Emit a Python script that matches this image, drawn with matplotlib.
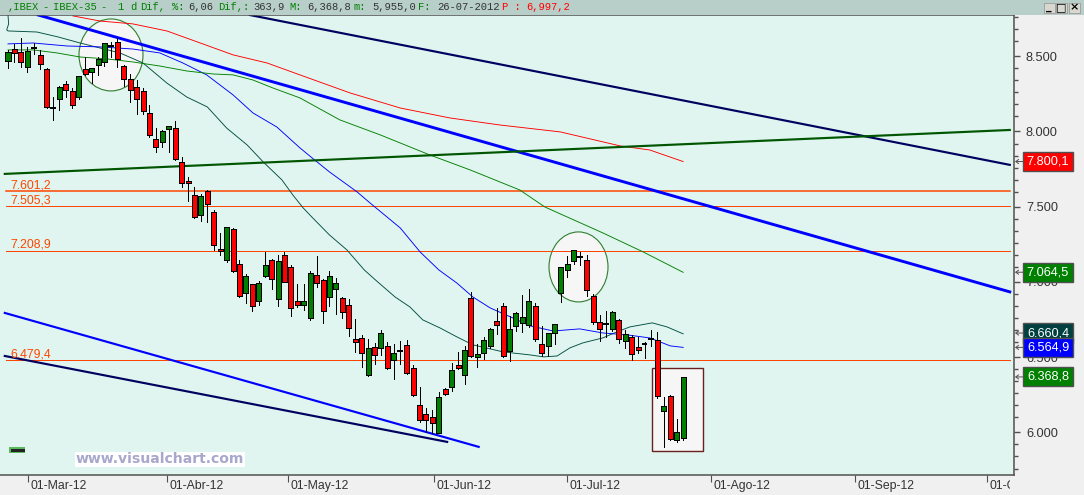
import matplotlib
matplotlib.use("Agg")
import matplotlib.pyplot as plt
from matplotlib.patches import Ellipse, Rectangle
from matplotlib.transforms import Bbox, Affine2D

plt.rcParams['font.family'] = ['Liberation Sans', 'DejaVu Sans']

# ---------- daily candles (IBEX-35) ----------
opens = [8469,8548,8529,8429,8555,8509,8416,8156,8216,8316,8269,8229,8416,8396,8442,8462,8568,8595,8435,8349,
         8296,8269,8123,7950,7930,8017,8024,7797,7671,7578,7445,7605,7465,7219,7146,7352,7120,6927,6987,6874,
         7040,7146,6887,7179,7100,6874,6847,6761,7047,7013,6900,6954,6894,6847,6621,6628,6382,6568,6561,6575,
         6482,6541,6581,6428,6183,6123,6103,5997,6289,6302,6448,6382,6894,6502,6528,6575,6741,6841,6541,6708,
         6728,6714,6841,6588,6575,6661,6927,7080,7140,7166,7146,6907,6734,6721,6688,6748,6608,6635,6568,6588,
         6621,6615,6143,6243,5950,5964]
highs = [8542,8582,8621,8562,8588,8542,8422,8229,8302,8336,8289,8369,8495,8422,8495,8588,8595,8621,8442,8382,
         8342,8289,8176,8024,8010,8037,8070,7831,7698,7631,7585,7611,7479,7326,7366,7359,7146,7053,6987,7007,
         7199,7153,7179,7199,7113,6987,6987,7073,7173,7020,7073,7027,6900,6887,6754,6648,6621,6595,6681,6601,
         6588,6608,6615,6448,6302,6163,6149,6269,6296,6462,6535,6575,6934,6588,6635,6694,6827,6861,6774,6801,
         6914,6954,6861,6708,6661,6721,7100,7173,7213,7199,7179,6920,6781,6807,6807,6754,6681,6648,6635,6601,
         6681,6668,6236,6249,6090,6369]
lows = [8422,8462,8429,8396,8515,8416,8156,8077,8143,8229,8156,8216,8376,8322,8376,8435,8495,8429,8302,8196,
        8116,8116,7964,7864,7897,7864,7811,7631,7538,7425,7405,7399,7213,7179,7133,7067,6900,6860,6807,6847,
        7033,6954,6841,7000,6774,6834,6814,6748,6967,6728,6841,6787,6761,6641,6535,6435,6376,6455,6515,6422,
        6355,6455,6389,6243,6070,6003,5997,5997,6249,6276,6422,6322,6502,6435,6488,6561,6655,6502,6475,6675,
        6668,6701,6608,6508,6508,6588,6867,7033,7120,7113,6907,6721,6608,6635,6674,6595,6561,6482,6528,6495,
        6575,6229,5904,5950,5937,5950]
closes = [8529,8522,8462,8535,8555,8449,8163,8156,8296,8276,8176,8369,8382,8422,8482,8588,8568,8482,8349,8276,
          8216,8136,7977,7897,8004,8037,7817,7658,7658,7432,7572,7518,7246,7206,7366,7073,6907,7040,6841,6993,
          7113,7020,7140,7000,6827,6847,6874,7060,6993,6807,7040,6993,6801,6694,6601,6528,6561,6515,6661,6428,
          6528,6541,6395,6249,6083,6083,6063,6236,6256,6415,6428,6548,6508,6521,6615,6688,6714,6508,6688,6794,
          6767,6874,6621,6528,6661,6721,7100,7120,7213,7166,6947,6734,6688,6721,6801,6621,6654,6521,6548,6588,
          6621,6243,6176,5957,6003,6369]

# ---------- moving averages: bar position and price ----------
ma_teal_x = [0,0.1,-0.2,0,4.5,7.8,11.2,14.3,17.4,21,24.7,27.8,31,34,37.2,39.7,42.6,44.3,45.9,47.4,50,52.7,55.4,57.5,
             60.2,62.5,64.5,67.2,69.8,72.3,77,81.2,83.3,85.4,87.4,89.4,92.5,94.7,96.7,100.2,102.5,105]
ma_teal_y = [8774,8715,8675,8668,8661,8628,8588,8555,8522,8455,8322,8229,8163,8023,7910,7797,7678,7578,7492,7425,7312,
             7213,7080,7000,6900,6834,6748,6694,6635,6582,6535,6515,6502,6508,6562,6595,6628,6668,6701,6728,6701,6655]
ma_blue_x = [0,3.9,9.2,14.3,19.4,23.6,27.2,30.9,35,38.1,41.8,45.4,47.3,50,54.3,56.3,61,64.1,67,69.8,72.3,75,78.5,
             81.2,84.8,88.9,92.5,96.3,99.8,103,105]
ma_blue_y = [8582,8588,8568,8562,8548,8522,8455,8376,8243,8123,8030,7891,7824,7731,7598,7525,7359,7199,7080,6993,
             6900,6827,6761,6708,6674,6688,6661,6648,6628,6575,6565]
ma_green_x = [0,3.9,7.6,11.2,15.4,19.4,23.6,27.8,31.9,35,38.1,41.2,45.4,51.6,57.9,65.6,71.9,79.6,83.5,88,92.5,98.8,105]
ma_green_y = [8542,8542,8522,8495,8482,8462,8435,8402,8382,8376,8342,8289,8223,8077,7977,7844,7744,7611,7498,7412,
              7326,7199,7064]
ma_red_x = [10.1,14.3,19.4,24.7,29.9,35,40.3,45.4,53.2,61,68.7,76.5,85.9,95.2,99.8,105]
ma_red_y = [8768,8734,8715,8668,8588,8509,8455,8376,8256,8156,8090,8043,7997,7904,7877,7800]

# ---------- trend lines ----------
navy_top_x, navy_top_y = [37.6,155.8], [8774,7778]
blue_top_x, blue_top_y = [4.7,155.8], [8774,6934]
green_x, green_y = [-0.5,155.8], [7718,8010]
blue_low_x, blue_low_y = [-0.5,73.2], [6794,5904]
navy_low_x, navy_low_y = [-0.5,68.3], [6508,5937]

# ---------- levels, axes labels ----------
levels = [7601.2, 7505.3, 7208.9, 6479.4]
level_labels = ['7.601,2', '7.505,3', '7.208,9', '6.479,4']
level_widths = [1.1, 0.72, 0.72, 0.72]
major_ticks = [6000, 6500, 7000, 7500, 8000, 8500]
major_labels = ['6.000', '6.500', '7.000', '7.500', '8.000', '8.500']
date_ticks = [3.1, 24.7, 43.5, 66.2, 87.0, 109.3, 131.7, 152.3]
date_labels = ['01-Mar-12', '01-Abr-12', '01-May-12', '01-Jun-12', '01-Jul-12', '01-Ago-12', '01-Sep-12', '01-Oct-12']
tags = [(7800.1, '7.800,1', '#ff0000'), (7064.5, '7.064,5', '#008000'), (6660.4, '6.660,4', '#004040'),
        (6564.9, '6.564,9', '#0000ff'), (6368.8, '6.368,8', '#008000')]

W, H = 1084, 495
BG = '#e0f5ef'
PANEL = '#f0f0f0'
BAR = '#b8cfc9'
AXC = '#505050'
LEVC = '#ff4500'

fig = plt.figure(figsize=(W/100, H/100), dpi=100, facecolor=PANEL)
L, R, T, B = 0, 1014, 15, 475
ax = fig.add_axes([L/W, 1-B/H, (R-L)/W, (B-T)/H], facecolor=BG)
ax.set_xlim(-8/6.43, (1014-8)/6.43)
ax.set_ylim(5717, 8774)

px = lambda x: (x-8)/6.43
py = lambda y: 8874-6.645*y

# highlight shapes
ax.add_patch(Ellipse((px(111), py(55)), 64/6.43, 72*6.645, fc='#f6f6f6', ec='#2f7d2f', lw=0.8, zorder=1))
ax.add_patch(Ellipse((px(578.5), py(267)), 59/6.43, 70*6.645, fc='#f6f6f6', ec='#2f7d2f', lw=0.8, zorder=1))
ax.add_patch(Rectangle((px(652), py(451)), 51/6.43, 83*6.645, fc='#f6f6f6', ec='#6b1f1f', lw=1.0, zorder=1))

# levels
for v, w in zip(levels, level_widths):
    ax.plot([px(6), px(1010)], [v, v], color=LEVC, lw=w, zorder=1.5)
for v, s in zip(levels, level_labels):
    ax.text(px(10), v+37, s, color=LEVC, fontsize=8.8, va='center', ha='left', zorder=6)

# moving averages
for xs, ys, c in [(ma_teal_x, ma_teal_y, '#004d40'), (ma_blue_x, ma_blue_y, '#0000ff'),
                  (ma_green_x, ma_green_y, '#008000'), (ma_red_x, ma_red_y, '#ff0000')]:
    ax.plot(xs, ys, color=c, lw=0.65, zorder=2)

# trend lines
ax.plot(navy_top_x, navy_top_y, color='#000060', lw=1.55, zorder=2.2)
ax.plot(blue_top_x, blue_top_y, color='#0000ff', lw=2.1, zorder=2.2)
ax.plot(green_x, green_y, color='#005500', lw=1.55, zorder=2.2)
ax.plot(blue_low_x, blue_low_y, color='#0000ff', lw=1.55, zorder=2.2)
ax.plot(navy_low_x, navy_low_y, color='#000060', lw=1.55, zorder=2.2)

# candles
idx = list(range(len(opens)))
ax.vlines(idx, lows, highs, color='black', lw=0.72, zorder=3, antialiased=False)
for i, o, c in zip(idx, opens, closes):
    if o == c:
        ax.plot([i-0.45, i+0.45], [o, o], color='black', lw=1.44, zorder=4, solid_capstyle='butt', antialiased=False)
    else:
        col = '#ff0000' if c < o else '#008000'
        ax.bar(i, abs(c-o), bottom=min(o, c), width=0.78, color=col, edgecolor='black', lw=0.72, zorder=4, antialiased=False)

# axes cosmetics
ax.spines['left'].set_visible(False)
for s in ['top', 'right', 'bottom']:
    ax.spines[s].set_color(AXC)
    ax.spines[s].set_linewidth(1.1)
ax.yaxis.tick_right()
ax.set_yticks(major_ticks)
ax.set_yticklabels(major_labels, fontsize=9.2, color='#333333')
minor = [m-80*k for m in [6000, 6500, 7000, 7500, 8000, 8500, 9000] for k in range(1, 6)]
ax.set_yticks([m for m in minor if 5717 < m < 8774], minor=True)
ax.tick_params(axis='y', which='major', length=4.3, width=1.0, color=AXC, pad=4.3)
ax.tick_params(axis='y', which='minor', length=2.9, width=1.0, color=AXC)
ax.set_xticks(date_ticks)
ax.set_xticklabels(date_labels, fontsize=8.8, color='#333333', ha='left')
ax.tick_params(axis='x', length=5, width=0.8, color=AXC, direction='out', pad=-1.5)
for lab in ax.get_xticklabels():
    lab.set_transform(lab.get_transform() + Affine2D().translate(2.5, 0))
    lab.set_clip_box(Bbox([[0, 0], [1010, H]]))
    lab.set_clip_on(True)

# price tags with arrows
yt = ax.get_yaxis_transform()
for v, s, c in tags:
    ax.text(1048/1014, v, s, transform=yt, color='white', fontsize=9.2, ha='center', va='center', clip_on=False, zorder=10,
            bbox=dict(boxstyle='square,pad=0.28', fc=c, ec=AXC, lw=1.0))
    ax.annotate('', xy=(1015/1014, v), xytext=(1023/1014, v), xycoords=yt, textcoords=yt,
                arrowprops=dict(arrowstyle='->,head_length=0.2,head_width=0.15', color=AXC, lw=0.7, shrinkA=0, shrinkB=0),
                annotation_clip=False, zorder=9)

# small icon and watermark
ax.add_patch(Rectangle((px(9), py(453)), 16/6.43, 6*6.645, fc='#5cb85c', ec='none', zorder=5))
ax.plot([px(12), px(23)], [py(450), py(450)], color='#222222', lw=0.8, zorder=6, antialiased=False)
ax.text(px(160), py(459.5), 'www.visualchart.com', color='#a8a8cc', fontsize=10.1, fontweight='bold', family='DejaVu Sans',
        ha='center', va='center', zorder=6,
        bbox=dict(boxstyle='square,pad=0.05', fc='white', ec='none'))

# header bar
fig.patches.append(Rectangle((0, 1-15/H), 1, 15/H, transform=fig.transFigure, fc=BAR, ec='none', zorder=0))
GR, DK, RD = '#008000', '#333333', '#ff0000'
segments = [(8, ',IBEX', GR), (42, '-', GR), (53, 'IBEX-35', GR), (100, '-', GR), (117, '1', GR), (130, 'd', GR),
            (140, 'Dif,', GR), (172, '%:', GR), (188, '6,06', DK), (218, 'Dif,:', GR), (253, '363,9', DK),
            (289, 'M:', GR), (307, '6,368,8', DK), (354, 'm:', GR), (372, '5,955,0', DK), (418, 'F:', GR),
            (437, '26-07-2012', DK), (502, 'P :', RD), (526, '6,997,2', RD)]
for x, s, c in segments:
    fig.text(x/W, 1-7.5/H, s, color=c, fontsize=7.6, family='Liberation Mono', ha='left', va='center')

# window buttons
for x0, g in [(1044, '_'), (1056, '\u25a1'), (1069, '\u00d7')]:
    fig.patches.append(Rectangle((x0/W, 1-12.5/H), 10.5/W, 9/H, transform=fig.transFigure, fc='#d8d8d0', ec='#909090', lw=0.5, zorder=0))
    fig.text((x0+5)/W, 1-7.5/H, g, color='black', fontsize=8, fontweight='bold', family='DejaVu Sans', ha='center', va='center')

fig.savefig('out.png', dpi=100, facecolor=PANEL)
